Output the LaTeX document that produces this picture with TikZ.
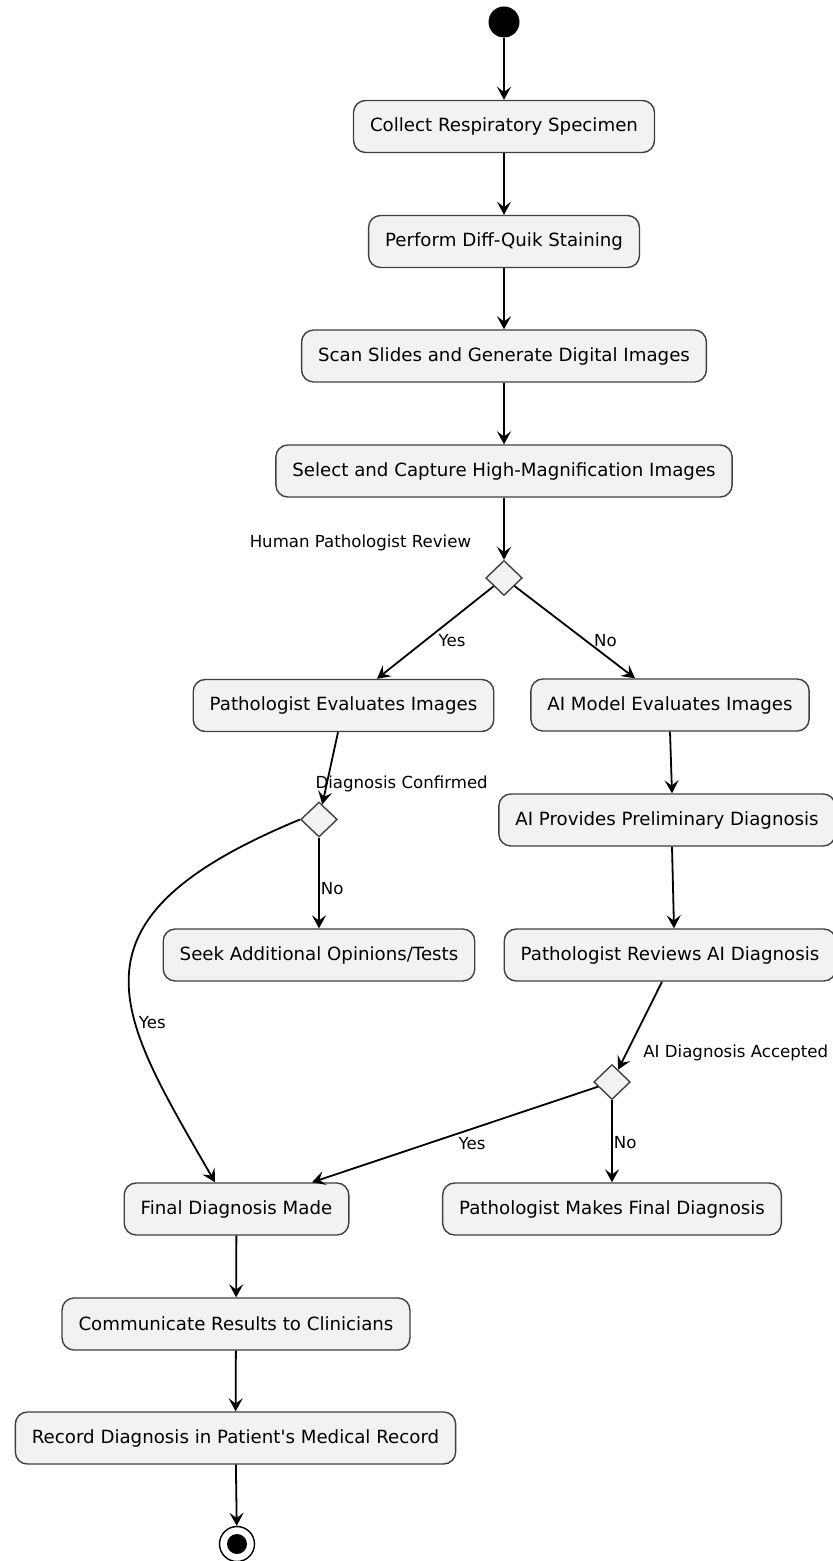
\documentclass[tikz,border=0pt]{standalone}
\usepackage{fontspec}
\setmainfont{DejaVu Sans}
\usepackage{tikz}
\usetikzlibrary{arrows.meta}
\usetikzlibrary{calc}
\usetikzlibrary{shapes}

\begin{document}
\begin{tikzpicture}[x=0.5pt, y=-0.5pt, line width=0.9pt,
        activity_style/.style={rectangle,rounded corners=6pt,draw=black!75,line width=0.7pt,fill=black!5,minimum height=26pt,inner xsep=8.25pt,font=\fontsize{9.1}{11}\selectfont},
        decision_style/.style={diamond,draw=black!75,line width=0.7pt,fill=black!5,minimum width=18.3pt,minimum height=17.5pt,inner sep=0pt},
        start_style/.style={circle,fill=black,minimum size=15.5pt,inner sep=0pt},
        stop_style/.style={circle,draw=black,fill=white,line width=0.7pt,minimum size=17.5pt,inner sep=0pt,
            path picture={\fill[black] (path picture bounding box.center) circle (5pt);}},
        guard_style/.style={inner sep=0pt,font=\fontsize{8.3}{10}\selectfont},
        edge_style/.style={draw=black, line width=0.9pt, -{Stealth[length=6.5pt,width=7pt,inset=2.6pt]}}]

        \useasboundingbox (0,0) rectangle (833,1561);

        \node [start_style](start) at (504,22) {};
        \node [activity_style](collect) at (504,126.5) {Collect Respiratory Specimen};
        \node [activity_style](stain) at (504,241.5) {Perform Diff-Quik Staining};
        \node [activity_style](scan) at (504,356) {Scan Slides and Generate Digital Images};
        \node [activity_style](capture) at (504,471) {Select and Capture High-Magnification Images};
        \node [decision_style](review) at (504,578) {};
        \node [activity_style](pathEval) at (343.5,705.5) {Pathologist Evaluates Images};
        \node [activity_style](aiEval) at (670,705) {AI Model Evaluates Images};
        \node [decision_style](confirmed) at (319,819.5) {};
        \node [activity_style](aiProvide) at (667,820) {AI Provides Preliminary Diagnosis};
        \node [activity_style](seek) at (319,955) {Seek Additional Opinions/Tests};
        \node [activity_style](pathReview) at (670,955) {Pathologist Reviews AI Diagnosis};
        \node [decision_style](accepted) at (612,1082) {};
        \node [activity_style](final) at (236.5,1209) {Final Diagnosis Made};
        \node [activity_style](pathFinal) at (612,1209) {Pathologist Makes Final Diagnosis};
        \node [activity_style](inform) at (236,1324) {Communicate Results to Clinicians};
        \node [activity_style](record) at (235.5,1438) {Record Diagnosis in Patient\textquotesingle s Medical Record};
        \node [stop_style](stop) at (237,1544) {};

        \draw [edge_style] (start) -- (collect);
        \draw [edge_style] (collect) -- (stain);
        \draw [edge_style] (stain) -- (scan);
        \draw [edge_style] (scan) -- (capture);
        \draw [edge_style] (capture) -- node[guard_style, pos=0.73, left=16pt]{Human Pathologist Review} (review);
        \draw [edge_style] (review) -- node[guard_style, pos=0.587, anchor=west, xshift=6.3pt]{Yes} ([xshift=16.75pt]pathEval.north);
        \draw [edge_style] (review) -- node[guard_style, pos=0.587, anchor=west, xshift=4pt]{No} ([xshift=-17.5pt]aiEval.north);
        \draw [edge_style] ([xshift=-2.75pt]pathEval.south) -- node[guard_style, pos=0.72, anchor=west, xshift=-6pt]{Diagnosis Confirmed} (confirmed);
        \draw [edge_style] (confirmed) -- node[guard_style, pos=0.565, anchor=west, xshift=0.5pt]{No} (seek);
        \draw [edge_style] (confirmed.west) .. controls (54,921) and (119,1015) .. node[guard_style, pos=0.63, anchor=west, xshift=1.3pt]{Yes} ([xshift=-10.75pt]final.north);
        \draw [edge_style] (aiEval.south) -- ([xshift=2.5pt]aiProvide.north);
        \draw [edge_style] ([xshift=2.5pt]aiProvide.south) -- ([xshift=2pt]pathReview.north);
        \draw [edge_style] ([xshift=-4pt]pathReview.south) -- node[guard_style, pos=0.81, anchor=west, xshift=8pt]{AI Diagnosis Accepted} (accepted);
        \draw [edge_style] (accepted) -- node[guard_style, pos=0.49, anchor=north west, yshift=-1.5pt]{Yes} ([xshift=37.75pt]final.north);
        \draw [edge_style] (accepted) -- node[guard_style, pos=0.52, anchor=west, xshift=0.5pt]{No} (pathFinal);
        \draw [edge_style] (final) -- (inform);
        \draw [edge_style] (inform) -- (record);
        \draw [edge_style] (record) -- (stop);
        \end{tikzpicture}
\end{document}
